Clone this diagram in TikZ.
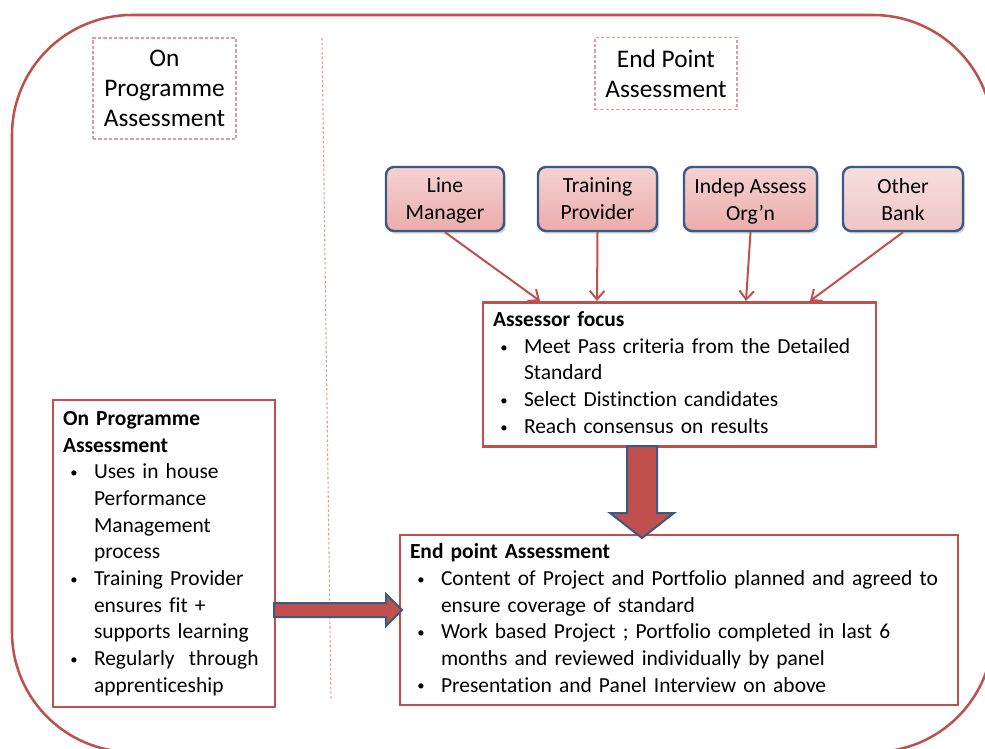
\documentclass[tikz,border=0pt]{standalone}
\usepackage{fontspec}
\setmainfont{Carlito}[Ligatures=NoCommon]
\usetikzlibrary{arrows.meta,shadows}

\definecolor{boxred}{HTML}{C0504D}
\definecolor{dashred}{HTML}{E29C9C}
\definecolor{navy}{HTML}{3A5A83}
\definecolor{pinktop}{HTML}{F6D2D2}
\definecolor{pinkbot}{HTML}{EBACAC}
\definecolor{paletop}{HTML}{F8DEDE}
\definecolor{palebot}{HTML}{EFC6C6}

% bullet cell and title row for the lists
\newcommand{\bul}{\hspace*{5.5pt}\raisebox{0.8pt}{\fontsize{11}{11}\selectfont\textbullet}}
\newcommand{\ttl}[1]{\multicolumn{2}{@{}l@{}}{\textbf{#1}}}
\newenvironment{blist}{\begin{tabular}{@{}p{23.25pt}@{}l@{}}}{\end{tabular}}

\tikzset{
	header/.style={draw=dashred, line width=0.8pt, dash pattern=on 2.5pt off 1.5pt, align=center, inner sep=0pt, font=\fontsize{19}{22.5}\selectfont},
	party/.style={draw=navy, line width=1.8pt, rounded corners=6pt, top color=#1top, bottom color=#1bot, drop shadow={opacity=0.35, shadow xshift=1.5pt, shadow yshift=-2pt}, align=center, inner sep=0pt, text depth=-1.5pt, font=\fontsize{16.2}{20.25}\selectfont},
	party/.default=pink,
	panel/.style={draw=boxred, line width=1.8pt, fill=white, inner xsep=7.5pt, inner ysep=0pt, font=\fontsize{16.1}{20}\selectfont},
	feed/.style={boxred, line width=1.5pt, -{Straight Barb[length=6.5pt,width=11pt]}},
	bigarrow/.style={draw=navy, line width=1.5pt, fill=boxred}
}

\begin{document}
\begin{tikzpicture}[x=0.75pt,y=-0.75pt]
	\useasboundingbox (0,0) rectangle (985,749);
	% frame and divider
	\draw[boxred, line width=1.9pt, rounded corners=90pt] (12,15) rectangle (993,752);
	\draw[dashred, line width=0.8pt, dash pattern=on 2pt off 1.5pt] (322,38) -- (331,700);
	
	% headings
	\node[header, minimum width=107.25pt, minimum height=75.75pt] (ophead) at (164.5,88.5) {On\\Programme\\Assessment};
	\node[header, minimum width=106.5pt, minimum height=54pt] (ephead) at (666,73.5) {End Point\\Assessment};
	
	% assessors
	\node[party, minimum width=88.5pt, minimum height=48pt] (lm) at (445,199) {Line\\Manager};
	\node[party, minimum width=89.25pt, minimum height=48pt] (tp) at (597.5,199) {Training\\Provider};
	\node[party, minimum width=99.75pt, minimum height=48pt] (ia) at (750.5,199) {Indep Assess\\Org’n};
	\node[party=pale, minimum width=90pt, minimum height=48pt] (ob) at (903,199) {Other\\Bank};
	
	% text boxes
	\node[panel, minimum width=294.75pt, minimum height=108pt, text width=279.75pt] (af) at (679.5,374.5) {\begin{blist}
		\ttl{Assessor focus}\\
		\bul & Meet Pass criteria from the Detailed\\
		     & Standard\\
		\bul & Select Distinction candidates\\
		\bul & Reach consensus on results
	\end{blist}};
	\node[panel, minimum width=166.5pt, minimum height=230.25pt, text width=151.5pt] (opbox) at (164,553.5) {\begin{blist}
		\ttl{On Programme}\\
		\ttl{Assessment}\\
		\bul & Uses in house\\
		     & Performance\\
		     & Management\\
		     & process\\
		\bul & Training Provider\\
		     & ensures fit +\\
		     & supports learning\\
		\bul & Regularly\ \ through\\
		     & apprenticeship
	\end{blist}};
	\node[panel, minimum width=418.5pt, minimum height=127.5pt, text width=403.5pt] (epbox) at (679,620) {\begin{blist}
		\ttl{End point Assessment}\\
		\bul & Content of Project and Portfolio planned and agreed to\\
		     & ensure coverage of standard\\
		\bul & Work based Project ; Portfolio completed in last 6\\
		     & months and reviewed individually by panel\\
		\bul & Presentation and Panel Interview on above
	\end{blist}};
	
	% arrows into assessor focus
	\coordinate (in1) at (540,301);
	\coordinate (in2) at (597,301);
	\coordinate (in3) at (746,301);
	\coordinate (in4) at (810,301);
	\draw[feed] (lm.south) -- (in1);
	\draw[feed] (tp.south) -- (in2);
	\draw[feed] (ia.south) -- (in3);
	\draw[feed] (ob.south) -- (in4);
	
	% block arrows
	\draw[bigarrow] (627,446) -- (657,446) -- (657,513) -- (674,513) -- (642,538) -- (610,513) -- (627,513) -- cycle;
	\draw[bigarrow] (274,603) -- (386,603) -- (386,594) -- (402,610) -- (386,626) -- (386,617) -- (274,617) -- cycle;
\end{tikzpicture}
\end{document}
